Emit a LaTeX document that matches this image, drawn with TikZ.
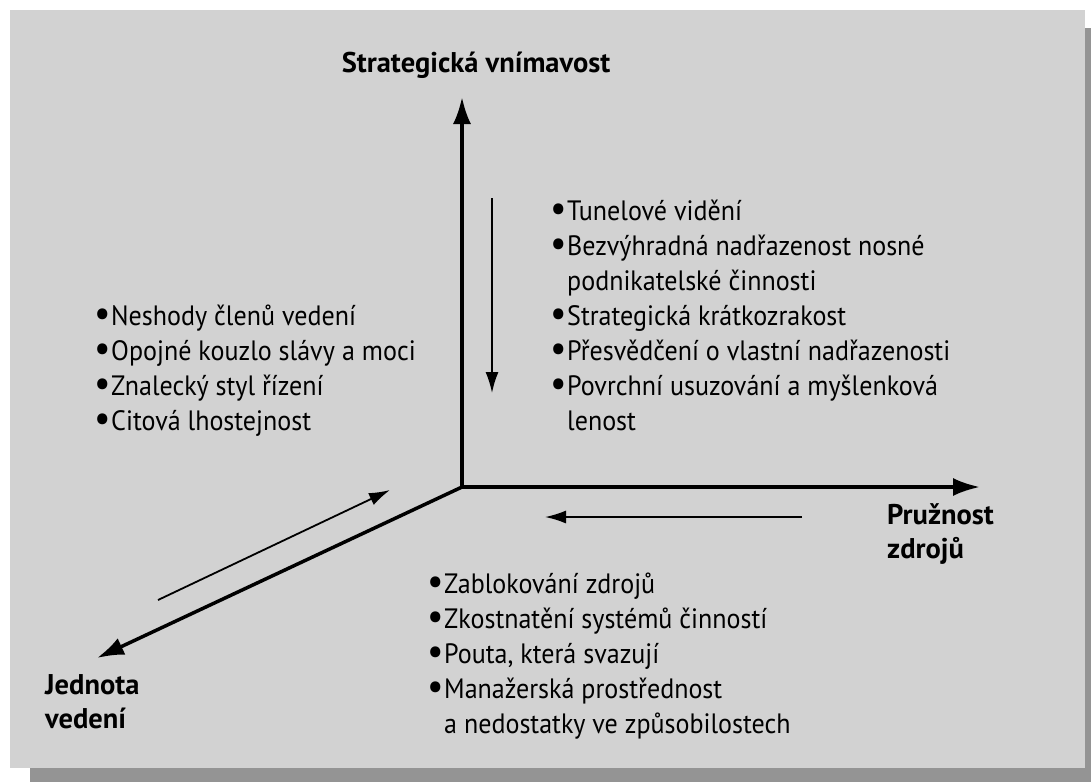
\documentclass[tikz,border=0pt]{standalone}
\usepackage{fontspec}
\usepackage{graphicx}
\setmainfont{PT Sans}[FakeStretch=0.93]
\newfontfamily\labelfont{PT Sans}
\usetikzlibrary{arrows.meta}
\newcommand{\bul}{\makebox[17pt][l]{\raisebox{-1.5pt}{\scalebox{1.4}{\textbullet}}}}
\newcommand{\cont}{\hspace*{17pt}}
\tikzset{
  axis/.style={line width=3.5pt,-{Latex[length=27pt,width=18pt]}},
  trend/.style={line width=1.8pt,-{Latex[length=21pt,width=13pt]}},
  axislabel/.style={font=\labelfont\fontsize{28.5}{34}\selectfont\bfseries,align=left,anchor=base west,inner sep=0pt},
  itemlist/.style={font=\fontsize{28}{35}\selectfont,align=left,anchor=base west,inner sep=0pt},
}
\begin{document}
\begin{tikzpicture}[x=1pt,y=-1pt]
  \useasboundingbox (0,0) rectangle (1091,782);
  % panel and its shadow
  \fill[black!42] (30,28) rectangle (1091,782);
  \fill[gray!35] (10,10) rectangle (1085,768);

  % axes
  \coordinate (O) at (462,487);
  \coordinate (top) at (462,97);
  \coordinate (right) at (980,487);
  \coordinate (left) at (97,658);
  \draw[axis] (O) -- (top);
  \draw[axis] (O) -- (right);
  \draw[axis] (O) -- (left);

  % trend arrows
  \coordinate (downA) at (492,198);
  \coordinate (downB) at (492,393);
  \coordinate (backA) at (802,517);
  \coordinate (backB) at (545,517);
  \coordinate (inA) at (158,600);
  \coordinate (inB) at (390,490);
  \draw[trend] (downA) -- (downB);
  \draw[trend] (backA) -- (backB);
  \draw[trend] (inA) -- (inB);

  % axis labels (anchored at the last baseline)
  \node[axislabel,anchor=base] (strat) at (476,72) {Strategická vnímavost};
  \node[axislabel] (pruz) at (887,558) {Pružnost\\zdrojů};
  \node[axislabel] (jedn) at (45,728) {Jednota\\vedení};

  % lists
  \node[itemlist] (vnim) at (550,430) {\bul Tunelové vidění\\
    \bul Bezvýhradná nadřazenost nosné\\
    \cont podnikatelské činnosti\\
    \bul Strategická krátkozrakost\\
    \bul Přesvědčení o vlastní nadřazenosti\\
    \bul Povrchní usuzování a myšlenková\\
    \cont lenost};
  \node[itemlist] (veden) at (94,430) {\bul Neshody členů vedení\\
    \bul Opojné kouzlo slávy a moci\\
    \bul Znalecký styl řízení\\
    \bul Citová lhostejnost};
  \node[itemlist] (zdroj) at (427,733) {\bul Zablokování zdrojů\\
    \bul Zkostnatění systémů činností\\
    \bul Pouta, která svazují\\
    \bul Manažerská prostřednost\\
    \cont a nedostatky ve způsobilostech};
\end{tikzpicture}
\end{document}
